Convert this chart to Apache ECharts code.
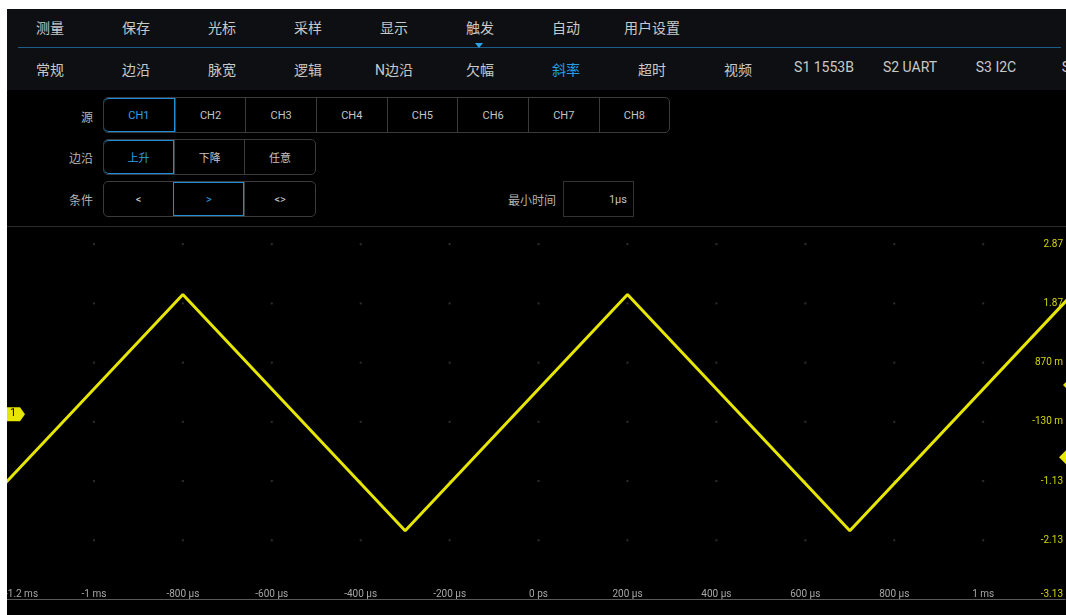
<!DOCTYPE html>
<html><head><meta charset="utf-8">
<script src="https://cdn.jsdelivr.net/npm/echarts@6/dist/echarts.min.js"></script>
<style>
html,body{margin:0;padding:0;background:#fff;width:1066px;height:615px;overflow:hidden;font-family:Roboto,"Noto Sans CJK SC",sans-serif;}
#panel{position:absolute;left:7px;top:9px;width:1059px;height:606px;background:#000;overflow:hidden;}
#menu{position:absolute;left:0;top:0;width:1059px;height:81px;background:#0d0f12;}
.mi{position:absolute;transform:translateX(-50%);white-space:nowrap;color:#c9c9c9;font-size:14px;}
.lbl{position:absolute;color:#b4b4b4;font-size:12px;text-align:right;white-space:nowrap;}
.grp{position:absolute;border:1px solid #3b3b3b;border-radius:5px;box-sizing:border-box;display:flex;}
.btn{flex:1;border-left:1px solid #3b3b3b;color:#c4c4c4;font-size:11px;display:flex;align-items:center;justify-content:center;box-sizing:border-box;}
.btn:first-child{border-left:none;}
.sel{border:1px solid #1f8ed2;color:#2aa3e8;}
.grp .btn.sel:first-child{border-radius:5px 0 0 5px;}
#chart{position:absolute;left:0;top:227px;width:1066px;height:388px;}
#wl{position:absolute;left:0;top:0;width:7px;height:615px;background:#fff;}
#wt{position:absolute;left:0;top:0;width:1066px;height:9px;background:#fff;}
</style></head>
<body>
<div id="panel">
  <div id="menu"></div>
  <div id="settings"></div>
</div>
<div id="chart"></div>
<div id="wl"></div><div id="wt"></div>
<script>
// ---- data ----
const menuTop = ['测量','保存','光标','采样','显示','触发','自动','用户设置'];
const menuSub = ['常规','边沿','脉宽','逻辑','N边沿','欠幅','斜率','超时','视频','S1 1553B','S2 UART','S3 I2C','S4 SPI'];
const sourceOpts = ['CH1','CH2','CH3','CH4','CH5','CH6','CH7','CH8'];
const edgeOpts = ['上升','下降','任意'];
const condOpts = ['<','>','<>'];
const minTimeText = '1μs';

const timeMs = [-1.3, -0.8, -0.3, 0.2, 0.7, 1.2];
const voltsV = [-1.97, 2.02, -1.97, 2.02, -1.97, 2.02];

const xTickValues = [-1.2,-1.0,-0.8,-0.6,-0.4,-0.2,0,0.2,0.4,0.6,0.8,1.0];
const xTickLabels = ['-1.2 ms','-1 ms','-800 μs','-600 μs','-400 μs','-200 μs','0 ps','200 μs','400 μs','600 μs','800 μs','1 ms'];
const yTickValues = [-3.13,-2.13,-1.13,-0.13,0.87,1.87,2.87];
const yTickLabels = ['-3.13','-2.13','-1.13','-130 m','870 m','1.87','2.87'];
const xMin = -1.2, xMax = 1.184, yMin = -3.13, yMax = 3.16;
const ch1Offset = 0, trigLevel = -0.73, auxLevel = 0.49;

// ---- UI ----
const menu = document.getElementById('menu');
menuTop.forEach((t,i)=>{const d=document.createElement('div');d.className='mi';d.textContent=t;d.style.left=(43+86*i)+'px';d.style.top='8px';menu.appendChild(d);});
menuSub.forEach((t,i)=>{const d=document.createElement('div');d.className='mi';d.textContent=t;d.style.left=(43+86*i)+'px';d.style.top='50px';if(t==='斜率')d.style.color='#229fe6';menu.appendChild(d);});
const line=document.createElement('div');line.style.cssText='position:absolute;left:11px;top:38px;width:1043px;height:1px;background:#1d5e88;';menu.appendChild(line);
const tri=document.createElement('div');tri.style.cssText='position:absolute;left:468px;top:34px;width:0;height:0;border-left:4px solid transparent;border-right:4px solid transparent;border-top:5px solid #2aa3e8;';menu.appendChild(tri);

const st=document.getElementById('settings');
function label(t,y){const d=document.createElement('div');d.className='lbl';d.textContent=t;d.style.right=(1059-86)+'px';d.style.top=(y-9-8)+'px';st.appendChild(d);}
function group(opts,sel,x,y,w){const g=document.createElement('div');g.className='grp';g.style.left=(x-7)+'px';g.style.top=(y-9)+'px';g.style.width=(w*opts.length)+'px';g.style.height='36px';
 opts.forEach((t,i)=>{const b=document.createElement('div');b.className='btn'+(i===sel?' sel':'');b.textContent=t;g.appendChild(b);});st.appendChild(g);}
label('源',116);label('边沿',157);label('条件',199);
group(sourceOpts,0,103,97,70.9);
group(edgeOpts,0,103,139,70.9);
group(condOpts,1,103,181,70.9);
const ml=document.createElement('div');ml.className='lbl';ml.textContent='最小时间';ml.style.right=(1059-549)+'px';ml.style.top=(199-9-8)+'px';st.appendChild(ml);
const box=document.createElement('div');box.style.cssText='position:absolute;left:556px;top:172px;width:71px;height:36px;box-sizing:border-box;border:1px solid #333;color:#c4c4c4;font-size:11px;display:flex;align-items:center;justify-content:flex-end;padding-right:6px;';box.textContent=minTimeText;st.appendChild(box);
const sep=document.createElement('div');sep.style.cssText='position:absolute;left:0;top:217px;width:1059px;height:1px;background:#2c2c2c;';st.appendChild(sep);

// ---- chart ----
function lab(vals,labs){return v=>{for(let i=0;i<vals.length;i++){if(Math.abs(v-vals[i])<1e-6)return labs[i];}return '';};}
const dots=[];
xTickValues.slice(1).forEach(x=>yTickValues.slice(1).forEach(y=>dots.push([x,y])));
const chart=echarts.init(document.getElementById('chart'));
chart.setOption({
  backgroundColor:'transparent',animation:false,
  grid:{left:5,right:0,top:0,bottom:15.5},
  xAxis:{type:'value',min:xMin,max:xMax,interval:0.2,
    axisLine:{show:true,onZero:false,lineStyle:{color:'#5a5a5a',width:1}},axisTick:{show:false},splitLine:{show:false},
    axisLabel:{inside:true,margin:0,color:'#a8a8a8',fontSize:10,fontFamily:'Roboto',formatter:lab(xTickValues,xTickLabels),alignMinLabel:'left',showMaxLabel:false}},
  yAxis:{type:'value',position:'right',min:yMin,max:yMax,interval:1,
    axisLine:{show:false,onZero:false},axisTick:{show:false},splitLine:{show:false},
    axisLabel:{inside:true,margin:2,color:'#d4d400',fontSize:10,fontFamily:'Roboto',formatter:lab(yTickValues,yTickLabels),showMaxLabel:false,verticalAlignMinLabel:'bottom'}},
  series:[
    {type:'scatter',data:dots,symbol:'rect',symbolSize:2,itemStyle:{color:'#3a3a3a'},silent:true,z:1},
    {type:'line',data:timeMs.map((t,i)=>[t,voltsV[i]]),showSymbol:false,lineStyle:{color:'#e6e600',width:3},clip:true,z:3}
  ]
});
const p0=chart.convertToPixel({gridIndex:0},[0,ch1Offset]);
const pT=chart.convertToPixel({gridIndex:0},[0,trigLevel]);
const pA=chart.convertToPixel({gridIndex:0},[0,auxLevel]);
chart.setOption({graphic:[
  {type:'polygon',shape:{points:[[7,p0[1]-7],[20,p0[1]-7],[25,p0[1]],[20,p0[1]+7],[7,p0[1]+7]]},style:{fill:'#e6e600'},z:10},
  {type:'text',x:10,y:p0[1]-6,style:{text:'1',fill:'#000',font:'11px Roboto'},z:11},
  {type:'polygon',shape:{points:[[1059,pT[1]],[1066,pT[1]-7],[1066,pT[1]+7]]},style:{fill:'#e6e600'},z:10},
  {type:'polygon',shape:{points:[[1063,pA[1]],[1066,pA[1]-3],[1066,pA[1]+3]]},style:{fill:'#e6e600'},z:10}
]});
</script>
</body></html>
